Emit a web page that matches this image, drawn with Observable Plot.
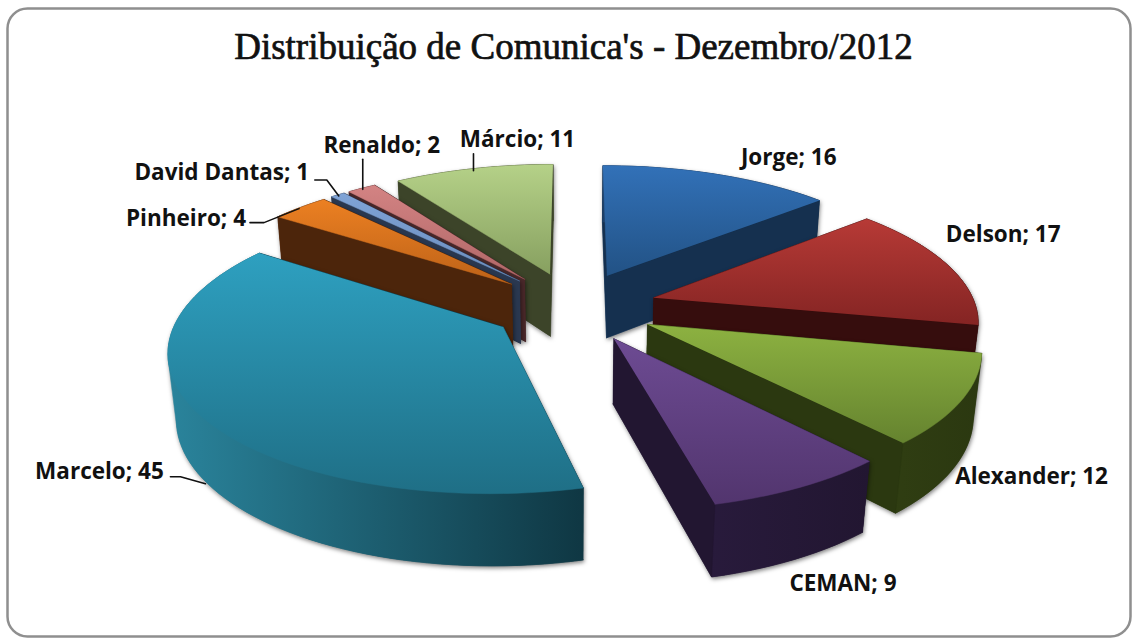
<!DOCTYPE html>
<html>
<head>
<meta charset="utf-8">
<style>html,body{margin:0;padding:0;background:#fff}</style>
<script src="https://cdn.jsdelivr.net/npm/d3@7"></script>
<script src="https://cdn.jsdelivr.net/npm/@observablehq/plot@0.6"></script>
</head>
<body>
<div id="chart"></div>
<script>
const titleText = "Distribuição de Comunica's - Dezembro/2012";
const names = ["Jorge","Delson","Alexander","CEMAN","Marcelo","Pinheiro","David Dantas","Renaldo","Márcio"];
const values = [16,17,12,9,45,4,1,2,11];

// colours: [top light, top dark, wall light, wall dark]
const shades = {
  "Jorge":["#3271b8","#225285","#1c3f68","#15304f"],
  "Delson":["#b73a36","#842423","#3e1010","#360d0d"],
  "Alexander":["#8db241","#65832f","#3c4d18","#2b3810"],
  "CEMAN":["#6d4b93","#52356e","#2c1d42","#221631"],
  "Marcelo":["#2ea0c0","#1f6f86","#2a849c","#0f3743"],
  "Pinheiro":["#ec8022","#bd6218","#5b2c0e","#4c250b"],
  "David Dantas":["#7fa3d6","#6a8cbd","#2f3f5c","#2a3850"],
  "Renaldo":["#d38383","#b06767","#5a3033","#4a282a"],
  "Márcio":["#b5d188","#87a060","#4a5333","#3c4429"]
};

// view parameters of the tilted pie
const cx = 573, cy = 306, Rx = 322, Ry = 135, H = 65, k = 0.15, kz = 0.02, explode = 0.26;

// [elbows relative to the slice's mid-arc point], label centre relative to it
const leaders = {
  "Pinheiro":[[-1,1],[-36,15],[-50,15]],
  "David Dantas":[[1,1],[-11,-15],[-23,-15]],
  "Renaldo":[[1,1],[1,-29]],
  "Márcio":[[0,2],[0,-15]],
  "Marcelo":[[6,69],[-19,62],[-29,62]]
};
const labelOffsets = {
  "Jorge":[71,-17],"Delson":[55,-31],"Alexander":[70,76],"CEMAN":[43,96],"Marcelo":[-100,57],
  "Pinheiro":[-114,11],"David Dantas":[-116,-22],"Renaldo":[20,-43],"Márcio":[44,-29]
};

const total = d3.sum(values);
const rad = Math.PI / 180;
let acc = 0;
const slices = names.map((name, i) => {
  const a0 = acc / total * 360; acc += values[i];
  const a1 = acc / total * 360;
  return {name, value: values[i], a0, a1, mid: (a0 + a1) / 2, id: "s" + i};
});

function proj(slice, angle, r, z) {
  const X = r * Math.sin(angle * rad) + explode * Math.sin(slice.mid * rad);
  const Y = -r * Math.cos(angle * rad) - explode * Math.cos(slice.mid * rad);
  const s = 1 / (1 - k * Y + kz * z);
  return [cx + Rx * X * s, cy + Ry * Y * s + z * H * s];
}
function arc(slice, z) {
  const n = Math.max(2, Math.ceil((slice.a1 - slice.a0) / 2));
  return d3.range(n + 1).map(j => proj(slice, slice.a0 + (slice.a1 - slice.a0) * j / n, 1, z));
}
const face = (pts, fill, extra = {}) =>
  Plot.line(pts, {x: d => d[0], y: d => d[1], fill, stroke: fill, strokeWidth: 0.5, curve: "linear", ...extra});

const shadow = {imageFilter: "drop-shadow(1.5px 2px 2px rgba(0,0,0,0.5))"};

function sliceHull(s) {
  return d3.polygonHull([proj(s, s.a0, 0, 0), proj(s, s.a0, 0, 1), ...arc(s, 0), ...arc(s, 1)]);
}

function gradients() {
  const defs = d3.create("svg:defs");
  for (const s of slices) {
    const c = shades[s.name];
    const t = defs.append("linearGradient").attr("id", s.id + "t").attr("x1", 0).attr("y1", 0).attr("x2", 0).attr("y2", 1);
    t.append("stop").attr("offset", 0).attr("stop-color", c[0]);
    t.append("stop").attr("offset", 1).attr("stop-color", c[1]);
    const [x0, x1] = d3.extent(sliceHull(s), d => d[0]);
    const w = defs.append("linearGradient").attr("id", s.id + "w").attr("gradientUnits", "userSpaceOnUse")
      .attr("x1", x0).attr("y1", 0).attr("x2", x1).attr("y2", 0);
    w.append("stop").attr("offset", 0).attr("stop-color", c[2]);
    w.append("stop").attr("offset", 1).attr("stop-color", c[3]);
  }
  return defs.node();
}

const paintOrder = ["Márcio","Renaldo","David Dantas","Pinheiro","Jorge","Delson","Alexander","CEMAN","Marcelo"];
const sliceMarks = paintOrder.flatMap(name => {
  const s = slices.find(d => d.name === name);
  const top = arc(s, 0), bottom = arc(s, 1);
  const apexT = proj(s, s.a0, 0, 0), apexB = proj(s, s.a0, 0, 1);
  const wallFill = `url(#${s.id}w)`, sideFill = shades[name][3];
  const startFace = [apexT, top[0], bottom[0], apexB];
  const endFace = [apexT, top[top.length - 1], bottom[bottom.length - 1], apexB];
  // right-hand slices show their end face, back-left slices their start face
  const visible = s.mid < 180 ? [endFace] : s.mid >= 270 ? [startFace] : [];
  const hidden = [startFace, endFace].filter(f => !visible.includes(f));
  return [
    face(sliceHull(s), wallFill, shadow),
    ...hidden.map(f => face(f, sideFill)),
    face([...top, ...bottom.slice().reverse()], wallFill),
    ...visible.map(f => face(f, sideFill)),
    face([apexT, ...top], `url(#${s.id}t)`)
  ];
});

const labelRows = slices.map(s => {
  const anchor = proj(s, s.mid, 1, 0);
  const off = labelOffsets[s.name];
  return {text: `${s.name}; ${s.value}`, x: anchor[0] + off[0], y: anchor[1] + off[1]};
});
const leaderRows = slices.filter(s => leaders[s.name]).flatMap(s => {
  const anchor = proj(s, s.mid, 1, 0);
  return leaders[s.name].map(o => ({name: s.name, x: anchor[0] + o[0], y: anchor[1] + o[1]}));
});

const chart = Plot.plot({
  width: 1132,
  height: 638,
  margin: 0,
  style: {background: "#fff"},
  x: {domain: [0, 1132], axis: null},
  y: {domain: [0, 638], axis: null, reverse: true},
  marks: [
    gradients,
    Plot.frame({fill: "#fff", stroke: "#8f8f8f", strokeWidth: 2.5, rx: 20, insetLeft: 7, insetTop: 8, insetRight: 2, insetBottom: 2}),
    ...sliceMarks,
    Plot.line(leaderRows, {x: "x", y: "y", z: "name", stroke: "#111", strokeWidth: 1.6, curve: "linear"}),
    Plot.text(labelRows, {x: "x", y: "y", text: "text", fontFamily: "Open Sans", fontWeight: 700, fontSize: 22.5, fill: "#111", textAnchor: "middle", lineAnchor: "middle"}),
    Plot.text([titleText], {x: 573, y: 47, text: d => d, fontFamily: "Liberation Serif", fontSize: 37, fill: "#111", stroke: "#111", strokeWidth: 0.7, textAnchor: "middle", lineAnchor: "middle"})
  ]
});
document.getElementById("chart").appendChild(chart);
</script>
</body>
</html>
